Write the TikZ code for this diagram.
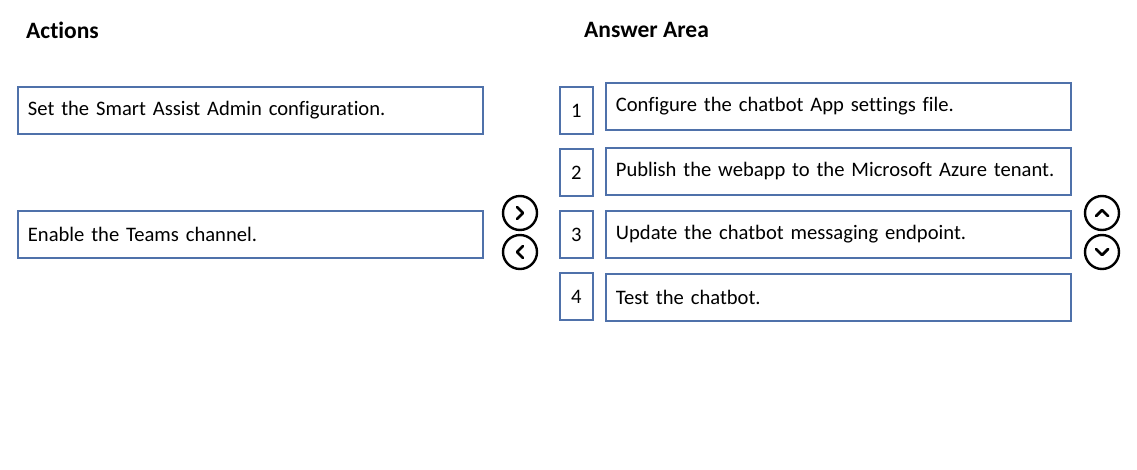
\documentclass[tikz,border=0pt]{standalone}
\usepackage{fontspec}
\setmainfont{Carlito}[Ligatures=NoCommon]
\definecolor{boxblue}{RGB}{79,113,170}
\begin{document}
\begin{tikzpicture}[x=1pt,y=-1pt,font=\fontsize{20.6}{24}\selectfont]
  \tikzset{
    actionbox/.style={draw=boxblue, line width=1.8pt, anchor=north west, minimum width=465pt,
      minimum height=47pt, text width=445pt, inner xsep=10pt, inner ysep=0pt, align=left},
    numbox/.style={draw=boxblue, line width=1.8pt, anchor=north west, minimum width=33pt,
      minimum height=47pt, inner sep=0pt},
    heading/.style={anchor=west, font=\fontsize{23.5}{27}\selectfont\bfseries, inner sep=0pt},
    btn/.style={draw, circle, line width=2.4pt, minimum size=34pt, inner sep=0pt},
    chev/.style={line width=2.8pt, line cap=round, line join=round}
  }
  \useasboundingbox (0,0) rectangle (1137,469);
  % headings
  \node[heading] (actions) at (26,30) {Actions};
  \node[heading] (answer) at (584,30) {Answer Area};
  % actions column
  \node[actionbox] (act1) at (17,86) {Set the Smart Assist Admin configuration.};
  \node[actionbox] (act2) at (17,210) {Enable the Teams channel.};
  % answer column
  \node[numbox] (n1) at (559,86) {1};
  \node[numbox] (n2) at (559,148) {2};
  \node[numbox] (n3) at (559,210) {3};
  \node[numbox] (n4) at (559,272) {4};
  \node[actionbox] (ans1) at (605,82) {Configure the chatbot App settings file.};
  \node[actionbox] (ans2) at (605,147) {Publish the webapp to the Microsoft Azure tenant.};
  \node[actionbox] (ans3) at (605,210) {Update the chatbot messaging endpoint.};
  \node[actionbox] (ans4) at (605,273) {Test the chatbot.};
  % move buttons
  \node[btn] (right) at (520,213) {};
  \node[btn] (left) at (520,252) {};
  \node[btn] (up) at (1102,213) {};
  \node[btn] (down) at (1102,252) {};
  \draw[chev] ([shift={(-3,-6)}]right.center) -- ++(6,6) -- ++(-6,6);
  \draw[chev] ([shift={(3,-6)}]left.center) -- ++(-6,6) -- ++(6,6);
  \draw[chev] ([shift={(-6,3)}]up.center) -- ++(6,-6) -- ++(6,6);
  \draw[chev] ([shift={(-6,-3)}]down.center) -- ++(6,6) -- ++(6,-6);
\end{tikzpicture}
\end{document}
